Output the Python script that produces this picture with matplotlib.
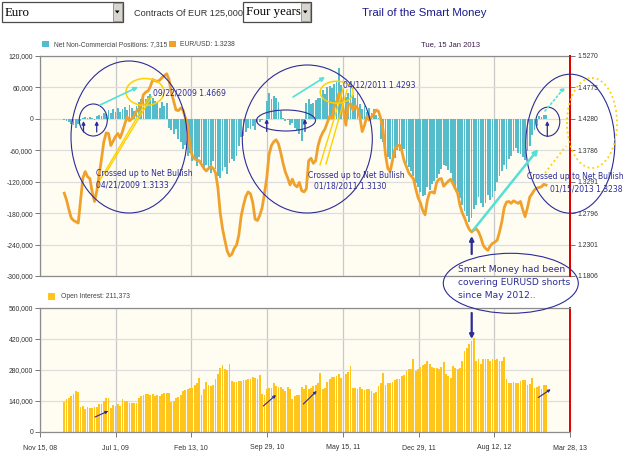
import numpy as np
import pandas as pd
import matplotlib
matplotlib.use('Agg')
import matplotlib.pyplot as plt
from matplotlib.patches import Ellipse, Rectangle, Polygon

W, H = 625, 454

# ── Data (weekly, Tuesdays) ────────────────────────────────────────────────
dates = pd.date_range('2009-01-27', periods=208, freq='7D')

# net non-commercial positions, thousands of contracts
net_k = [
    -3, -5, -6, -9, -12, -18, -10, -4, 2, 3,
    1, 4, 2, -2, 5, 8, 6, 12, 9, 16,
    11, 18, 14, 20, 13, 19, 23, 17, 27, 21,
    15, 25, 32, 37, 42, 38, 44, 47, 40, 35,
    30, 20, 33, 25, 30, -18, -22, -28, -20, -38,
    -45, -58, -50, -70, -65, -80, -75, -90, -72, -85,
    -98, -88, -95, -104, -80, -96, -110, -113, -100, -92,
    -105, -85, -76, -80, -70, -52, -35, -32, -25, -18,
    -20, -14, -22, -10, -6, -3, -1, 35, 49, 38,
    44, 40, 32, 15, 2, -5, -3, -12, -8, -18,
    -22, -28, -43, -12, 30, 38, 28, 30, 36, 40,
    40, 55, 48, 60, 62, 58, 66, 70, 97, 65,
    58, 42, 50, 62, 45, 40, 52, 28, 18, 24,
    14, 20, 12, 18, 8, 2, -38, -45, -60, -72,
    -77, -70, -75, -60, -62, -65, -58, -85, -92, -100,
    -110, -122, -130, -140, -148, -145, -130, -135, -125, -118,
    -112, -105, -95, -88, -90, -98, -104, -120, -130, -140,
    -152, -165, -175, -185, -196, -190, -172, -165, -150, -160,
    -168, -160, -145, -155, -150, -138, -120, -110, -100, -88,
    -95, -76, -70, -62, -55, -65, -68, -72, -78, -62,
    -52, -30, -22, -14, 5, 3, 8, 7.315,
]

eurusd = [
    1.311, 1.300, 1.285, 1.272, 1.268, 1.266, 1.264, 1.300, 1.335, 1.345,
    1.337, 1.334, 1.313, 1.298, 1.315, 1.340, 1.365, 1.392, 1.406, 1.405,
    1.386, 1.393, 1.400, 1.405, 1.398, 1.408, 1.420, 1.431, 1.425, 1.428,
    1.432, 1.440, 1.444, 1.450, 1.466, 1.470, 1.472, 1.479, 1.490, 1.488,
    1.487, 1.489, 1.493, 1.496, 1.499, 1.490, 1.470, 1.456, 1.442, 1.441,
    1.445, 1.442, 1.430, 1.418, 1.385, 1.370, 1.365, 1.363, 1.362, 1.356,
    1.350, 1.346, 1.350, 1.353, 1.350, 1.343, 1.320, 1.280, 1.255, 1.237,
    1.220, 1.212, 1.215, 1.224, 1.229, 1.245, 1.275, 1.292, 1.306, 1.313,
    1.310, 1.296, 1.270, 1.268, 1.276, 1.288, 1.310, 1.335, 1.372, 1.386,
    1.392, 1.395, 1.389, 1.375, 1.358, 1.344, 1.335, 1.324, 1.333, 1.324,
    1.321, 1.328, 1.315, 1.313, 1.318, 1.362, 1.366, 1.358, 1.362, 1.385,
    1.398, 1.406, 1.412, 1.422, 1.432, 1.429, 1.446, 1.455, 1.469, 1.460,
    1.440, 1.418, 1.450, 1.452, 1.442, 1.449, 1.445, 1.431, 1.408, 1.418,
    1.432, 1.426, 1.431, 1.436, 1.442, 1.440, 1.428, 1.410, 1.372, 1.350,
    1.345, 1.362, 1.380, 1.385, 1.387, 1.378, 1.362, 1.353, 1.343, 1.338,
    1.334, 1.318, 1.304, 1.296, 1.284, 1.277, 1.300, 1.312, 1.313, 1.311,
    1.328, 1.333, 1.334, 1.322, 1.326, 1.330, 1.333, 1.326, 1.318, 1.311,
    1.292, 1.280, 1.272, 1.262, 1.254, 1.250, 1.253, 1.255, 1.250, 1.241,
    1.229, 1.224, 1.221, 1.228, 1.232, 1.234, 1.237, 1.250, 1.266, 1.288,
    1.297, 1.298, 1.295, 1.299, 1.297, 1.295, 1.298, 1.285, 1.274, 1.288,
    1.305, 1.310, 1.316, 1.319, 1.320, 1.321, 1.325, 1.3238,
]

# open interest, thousands of contracts
oi_k = [
    137, 147, 155, 163, 170, 185, 181, 114, 117, 105,
    114, 110, 110, 111, 114, 125, 128, 140, 155, 155,
    110, 120, 117, 125, 117, 147, 140, 140, 129, 129,
    129, 132, 155, 163, 166, 170, 170, 166, 170, 163,
    166, 163, 170, 175, 175, 178, 135, 140, 152, 160,
    166, 185, 188, 193, 200, 200, 211, 220, 245, 166,
    196, 226, 211, 208, 212, 241, 260, 290, 301, 286,
    280, 305, 229, 227, 227, 230, 230, 235, 235, 238,
    238, 250, 244, 241, 257, 170, 167, 193, 199, 199,
    220, 208, 205, 205, 196, 185, 205, 196, 150, 163,
    166, 166, 205, 196, 211, 196, 200, 208, 211, 220,
    265, 196, 200, 227, 241, 247, 250, 253, 263, 245,
    253, 260, 271, 298, 200, 199, 193, 203, 193, 190,
    193, 196, 185, 178, 182, 208, 220, 265, 211, 220,
    223, 227, 235, 238, 238, 253, 256, 275, 286, 286,
    328, 275, 283, 295, 301, 305, 320, 305, 295, 290,
    290, 283, 295, 316, 260, 253, 245, 298, 290, 283,
    290, 320, 366, 381, 396, 411, 426, 320, 328, 305,
    331, 328, 328, 320, 328, 325, 328, 320, 320, 340,
    241, 223, 223, 226, 220, 223, 230, 233, 233, 211,
    218, 245, 200, 203, 208, 193, 211, 211.373,
]

pos_ticks = [-300000, -240000, -180000, -120000, -60000, 0, 60000, 120000]
pos_labels = ['-300,000', '-240,000', '-180,000', '-120,000', '-60,000', '0', '60,000', '120,000']
px_labels = ['1.1806', '1.2301', '1.2796', '1.3291', '1.3786', '1.4280', '1.4775', '1.5270']
oi_ticks = [0, 140000, 280000, 420000, 560000]
oi_labels = ['0', '140,000', '280,000', '420,000', '560,000']
date_ticks = pd.to_datetime(['2008-11-15', '2009-07-01', '2010-02-13', '2010-09-29',
                             '2011-05-15', '2011-12-29', '2012-08-12', '2013-03-28'])
date_labels = ['Nov 15, 08', 'Jul 1, 09', 'Feb 13, 10', 'Sep 29, 10',
               'May 15, 11', 'Dec 29, 11', 'Aug 12, 12', 'Mar 28, 13']

# ── Style ──────────────────────────────────────────────────────────────────
TEAL = '#55bccb'
ORANGE = '#f0a12c'
GOLD = '#ffc51c'
CREAM = '#fffcf2'
NAVY = '#2c2c98'
CYAN = '#55e0d6'
YELLOW = '#ffd000'
RED = '#e00000'
TICKFONT = dict(family='Liberation Sans', size=4.9, color='#333333')


def px_rect(x0, y0, x1, y1):
    return [x0 / W, 1 - y1 / H, (x1 - x0) / W, (y1 - y0) / H]


def style_axes(ax):
    ax.set_facecolor(CREAM)
    for s in ['left', 'top', 'bottom']:
        ax.spines[s].set_color('#8c8c8c')
        ax.spines[s].set_linewidth(0.9)
    ax.spines['right'].set_color(RED)
    ax.spines['right'].set_linewidth(1.4)
    ax.set_xlim(date_ticks[0], date_ticks[-1])
    ax.set_xticks(date_ticks)
    ax.grid(True, axis='x', color='#c9c9c9', lw=0.9)
    ax.grid(True, axis='y', color='#dddddd', lw=0.9)
    ax.set_axisbelow(True)
    ax.tick_params(axis='both', length=3.5, width=0.7, color='#777777', pad=1.5)


fig = plt.figure(figsize=(W / 100, H / 100), dpi=100)
fig.patch.set_facecolor('white')

# ── Top panel: net positions + EUR/USD ─────────────────────────────────────
ax = fig.add_axes(px_rect(40, 56, 570, 276))
style_axes(ax)
ax.bar(dates, np.array(net_k) * 1000, width=5.4, color=TEAL, lw=0)
ax.set_ylim(-300000, 120000)
ax.set_yticks(pos_ticks)
ax.set_yticklabels(pos_labels, fontdict=TICKFONT)
ax.set_xticklabels([])
ax.tick_params(axis='x', length=0)

ax2 = ax.twinx()
ax2.plot(dates, eurusd, color=ORANGE, lw=2.0, solid_joinstyle='round')
ax2.set_ylim(1.1806, 1.5270)
ax2.set_yticks(np.linspace(1.1806, 1.5270, 8))
ax2.set_yticklabels(px_labels, fontdict=TICKFONT)
ax2.tick_params(axis='y', length=3.5, width=0.7, color='#777777', pad=1.5)
for s in ['left', 'top', 'bottom']:
    ax2.spines[s].set_visible(False)
ax2.spines['right'].set_color(RED)
ax2.spines['right'].set_linewidth(1.4)

# ── Bottom panel: open interest ────────────────────────────────────────────
bx = fig.add_axes(px_rect(40, 308, 570, 432))
style_axes(bx)
bx.bar(dates, np.array(oi_k) * 1000, width=5.4, color=GOLD, lw=0)
bx.set_ylim(0, 560000)
bx.set_yticks(oi_ticks)
bx.set_yticklabels(oi_labels, fontdict=TICKFONT)
bx.set_xticklabels(date_labels, fontdict=dict(family='Liberation Sans', size=5.0, color='#333333'))
bx.tick_params(axis='x', pad=5)

# ── Overlay in pixel coordinates: header, legends, annotations ─────────────
ov = fig.add_axes([0, 0, 1, 1], zorder=10)
ov.set_xlim(0, W)
ov.set_ylim(H, 0)
ov.axis('off')
ov.patch.set_alpha(0)


def combo(x0, x1, text):
    ov.add_patch(Rectangle((x0, 1.5), x1 - x0, 20.5, fill=False, ec='#4a4a4a', lw=0.9))
    ov.add_patch(Rectangle((x1 - 10, 3), 8.5, 17.5, fc='#d8d5cf', ec='#8a8a8a', lw=0.6))
    ov.add_patch(Polygon([(x1 - 8, 10.5), (x1 - 3.5, 10.5), (x1 - 5.75, 13.5)], closed=True, fc='black'))
    ov.text(x0 + 3, 12.5, text, family='Liberation Serif', fontsize=9.3, va='center', ha='left')


combo(2, 123, 'Euro')
combo(243, 311, 'Four years')
ov.text(134, 13, 'Contracts Of EUR 125,000', family='Liberation Sans', fontsize=6.6,
        color='#333333', va='center')
ov.text(362, 13, 'Trail of the Smart Money', family='Liberation Sans', fontsize=8.2,
        color='#1a1a8c', va='center')

small = dict(family='Liberation Sans', fontsize=4.9, color='#444444', va='center')
ov.add_patch(Rectangle((42, 40.7), 6.5, 6.5, fc=TEAL, ec='none'))
ov.text(54, 44.3, 'Net Non-Commercial Positions: 7,315', **small)
ov.add_patch(Rectangle((169, 40.7), 6.5, 6.5, fc=ORANGE, ec='none'))
ov.text(180, 44.3, 'EUR/USD: 1.3238', **small)
ov.text(480, 44.3, 'Tue, 15 Jan 2013', family='Liberation Sans', fontsize=5.5,
        color='#3b1f4a', va='center', ha='right')
ov.add_patch(Rectangle((48, 293), 6.5, 6.5, fc=GOLD, ec='none'))
ov.text(61, 296.5, 'Open Interest: 211,373', **small)


def ell(cx, cy, w, h, color=NAVY, lw=0.8, ls='-'):
    ov.add_patch(Ellipse((cx, cy), w, h, fill=False, ec=color, lw=lw, ls=ls))


def arrow(x0, y0, x1, y1, color=NAVY, lw=0.9, ms=5, ls='-'):
    ov.annotate('', xy=(x1, y1), xytext=(x0, y0),
                arrowprops=dict(arrowstyle='-|>', color=color, lw=lw,
                                mutation_scale=ms, linestyle=ls,
                                shrinkA=0, shrinkB=0))


def line(x0, y0, x1, y1, color=YELLOW, lw=1.0, ls='-'):
    ov.plot([x0, x1], [y0, y1], color=color, lw=lw, ls=ls)


note = dict(family='DejaVu Sans', fontsize=5.5, color=NAVY, va='center', ha='left')

# 2009 crossover
ell(129, 137, 116, 152)
ell(93.3, 120, 28, 32)
arrow(83.5, 132, 83.5, 121)
arrow(96.7, 132, 96.7, 121)
arrow(100, 105, 138, 87, color=CYAN, lw=1.2, ms=6)
ell(145, 92, 38, 27, color=YELLOW, lw=1.1)
line(106.7, 171.7, 151.7, 96.7)
line(100, 180, 148.3, 98.3)
ov.text(153, 92.5, '09/22/2009 1.4669', **note)
ov.text(96, 174, 'Crossed up to Net Bullish', **note)
ov.text(96, 184.5, '04/21/2009 1.3133', **note)

# 2010-2011 crossover
ell(307.3, 139, 130, 148)
ell(286, 120.5, 59, 21)
arrow(266.7, 131.5, 266.7, 119)
arrow(305, 131.5, 305, 119)
arrow(293, 97, 325, 77, color=CYAN, lw=1.2, ms=6)
ell(336.7, 92.2, 33, 22, color=YELLOW, lw=1.1)
line(320, 165, 343.3, 88.3)
line(326, 164, 347, 90)
ov.text(343, 84.5, '04/12/2011 1.4293', **note)
ov.text(308.5, 175.7, 'Crossed up to Net Bullish', **note)
ov.text(313.5, 186, '01/18/2011 1.3130', **note)

# 2013 crossover
ell(570.3, 143.7, 89, 139)
ell(547.8, 121.7, 24, 29)
arrow(547.3, 136.5, 547.3, 121)
arrow(545, 111, 565, 87, color=CYAN, lw=1.2, ms=6, ls=':')
arrow(473.3, 230, 538.3, 149, color=CYAN, lw=1.8, ms=7)
ell(592, 123, 50, 90, color=YELLOW, lw=1.3, ls=':')
line(545, 173, 566, 146, lw=1.3, ls=':')
ov.text(527, 176.5, 'Crossed up to Net Bullish', **note)
ov.text(550, 189.5, '01/15/2013 1.3238', **note)

# smart money callout
ell(510.8, 283.3, 135, 60)
big = dict(family='DejaVu Sans', fontsize=6.6, color=NAVY, va='center', ha='left')
ov.text(458, 270, 'Smart Money had been', **big)
ov.text(458, 282.5, 'covering EURUSD shorts', **big)
ov.text(458, 295, 'since May 2012..', **big)
arrow(471.7, 254, 471.7, 236, lw=1.6, ms=6)
arrow(471.7, 313, 471.7, 339, lw=1.6, ms=6)

# open interest arrows
arrow(95, 417, 108.3, 411, lw=0.8, ms=4)
arrow(263.3, 406, 276, 395, lw=0.8, ms=4)
arrow(303.3, 404, 316.7, 391, lw=0.8, ms=4)
arrow(538.3, 397.5, 550.7, 389.3, lw=0.8, ms=4)

fig.savefig('out.png', dpi=100, facecolor='white')
